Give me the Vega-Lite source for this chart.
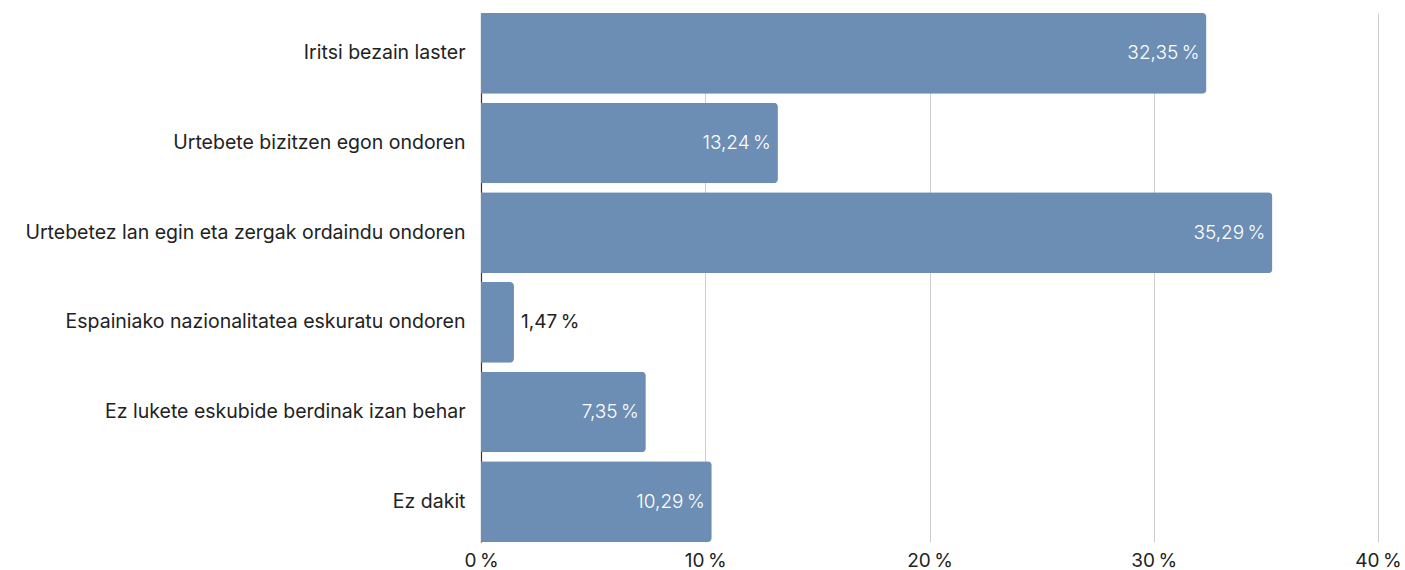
{
  "$schema": "https://vega.github.io/schema/vega-lite/v6.json",
  "width": 897,
  "height": 529,
  "autosize": {"type": "none"},
  "padding": {"left": 481, "top": 13, "right": 27, "bottom": 28},
  "background": "white",
  "data": {
    "values": [
      {"cat": "Iritsi bezain laster", "v": 0.3235},
      {"cat": "Urtebete bizitzen egon ondoren", "v": 0.1324},
      {"cat": "Urtebetez lan egin eta zergak ordaindu ondoren", "v": 0.3529},
      {"cat": "Espainiako nazionalitatea eskuratu ondoren", "v": 0.0147},
      {"cat": "Ez lukete eskubide berdinak izan behar", "v": 0.0735},
      {"cat": "Ez dakit", "v": 0.1029}
    ]
  },
  "encoding": {
    "y": {
      "field": "cat", "type": "nominal", "sort": null,
      "scale": {"paddingInner": 0.1, "paddingOuter": 0},
      "axis": {"title": null, "ticks": false, "labelFontSize": 19.5, "labelColor": "#222", "labelPadding": 16, "domainColor": "#333", "domainWidth": 1.2, "labelLimit": 600}
    },
    "x": {
      "field": "v", "type": "quantitative",
      "scale": {"domain": [0, 0.4], "nice": false},
      "axis": {"title": null, "format": ".0%", "values": [0, 0.1, 0.2, 0.3, 0.4], "ticks": false, "domain": false, "grid": true, "gridColor": "#cfcfcf", "labelFontSize": 19, "labelColor": "#222", "labelPadding": 9, "labelFlush": false}
    }
  },
  "layer": [
    {"mark": {"type": "bar", "color": "#6c8eb5", "cornerRadiusEnd": 4}},
    {
      "transform": [{"filter": "datum.v >= 0.05"}],
      "mark": {"type": "text", "align": "right", "dx": -7, "color": "white", "fontSize": 19, "font": "Inter", "fontWeight": 300},
      "encoding": {"text": {"field": "v", "type": "quantitative", "format": ".2%"}}
    },
    {
      "transform": [{"filter": "datum.v < 0.05"}],
      "mark": {"type": "text", "align": "left", "dx": 7, "color": "#222", "fontSize": 19, "font": "Inter"},
      "encoding": {"text": {"field": "v", "type": "quantitative", "format": ".2%"}}
    }
  ],
  "config": {
    "font": "Inter",
    "view": {"stroke": null},
    "locale": {"number": {"decimal": ",", "thousands": ".", "grouping": [3], "currency": ["", " €"], "percent": "\u202f%"}}
  }
}
